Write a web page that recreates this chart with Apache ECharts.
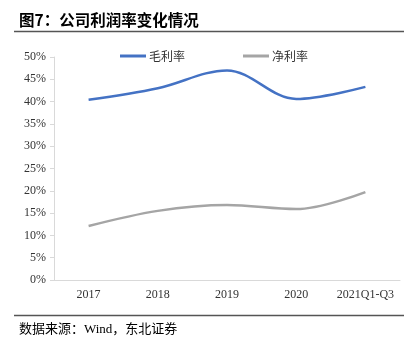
<!DOCTYPE html>
<html><head><meta charset="utf-8">
<script src="https://cdn.jsdelivr.net/npm/echarts@6/dist/echarts.min.js"></script>
<style>html,body{margin:0;padding:0;background:#fff}#c{width:413px;height:350px}</style>
</head><body><div id="c"></div>
<script>
var categories = ['2017','2018','2019','2020','2021Q1-Q3'];
var grossMargin = [40.4, 43.0, 47.0, 40.6, 43.3];
var netMargin = [12.1, 15.5, 16.8, 15.9, 19.7];
var titleText = '图7：公司利润率变化情况';
var sourceText = '数据来源：Wind，东北证券';

var chart = echarts.init(document.getElementById('c'));
var serif = '"Liberation Serif","Noto Sans CJK SC",serif';
chart.setOption({
  animation: false,
  title: [
    {text: titleText, left: 14, top: 7, textStyle: {fontSize: 15.5, fontWeight: 'bold', color: '#000', fontFamily: '"Noto Sans CJK SC",sans-serif'}},
    {text: sourceText, left: 14, top: 318, textStyle: {fontSize: 13, fontWeight: 'normal', color: '#000', fontFamily: '"Liberation Serif","Noto Sans CJK SC",serif'}}
  ],
  graphic: [
    {type: 'line', shape: {x1: 14, y1: 31.5, x2: 404, y2: 31.5}, style: {stroke: '#555', lineWidth: 1.5}},
    {type: 'line', shape: {x1: 14, y1: 315.5, x2: 404, y2: 315.5}, style: {stroke: '#555', lineWidth: 1.5}}
  ],
  legend: {
    top: 45, left: 115, itemGap: 58, itemWidth: 26, itemHeight: 3,
    icon: 'rect',
    textStyle: {fontSize: 12, color: '#333', fontFamily: '"Noto Sans CJK SC",sans-serif', padding: [0,0,0,-2]},
    data: ['毛利率','净利率']
  },
  grid: {left: 54, right: 13, top: 57, bottom: 70},
  xAxis: {
    type: 'category', data: categories, boundaryGap: true,
    axisLine: {lineStyle: {color: '#d9d9d9'}},
    axisTick: {show: false},
    axisLabel: {color: '#333', fontSize: 12, fontFamily: serif, margin: 9, interval: 0}
  },
  yAxis: {
    type: 'value', min: 0, max: 50, interval: 5,
    axisLine: {show: true, lineStyle: {color: '#d9d9d9'}},
    axisTick: {show: true, length: 4, lineStyle: {color: '#d9d9d9'}},
    splitLine: {show: false},
    axisLabel: {color: '#333', fontSize: 12, fontFamily: serif, margin: 8, formatter: '{value}%'}
  },
  series: [
    {name: '毛利率', type: 'line', data: grossMargin, smooth: 0.35, symbol: 'none',
     lineStyle: {color: '#4472C4', width: 2.5}, itemStyle: {color: '#4472C4'}},
    {name: '净利率', type: 'line', data: netMargin, smooth: 0.35, symbol: 'none',
     lineStyle: {color: '#A5A5A5', width: 2.5}, itemStyle: {color: '#A5A5A5'}}
  ]
});
</script></body></html>
